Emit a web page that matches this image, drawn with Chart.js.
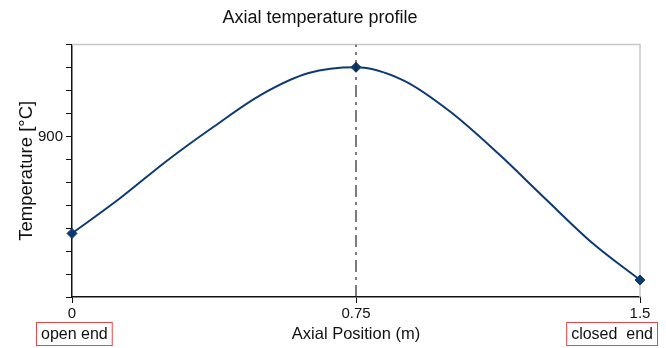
<!DOCTYPE html>
<html>
<head>
<meta charset="utf-8">
<script src="https://cdn.jsdelivr.net/npm/chart.js@4.4.0/dist/chart.umd.min.js"></script>
<style>
  html, body { margin: 0; padding: 0; background: #ffffff; }
  #wrap { width: 666px; height: 348px; }
</style>
</head>
<body>
<div id="wrap"><canvas id="profileChart"></canvas></div>
<script>
// axial position along the tube (m) and temperature
var positions = [0, 0.125, 0.25, 0.375, 0.5, 0.625, 0.75, 0.875, 1.0, 1.125, 1.25, 1.375, 1.5];
var temperatures = [857.7, 872.8, 889.3, 904.3, 918.2, 927.6, 930.1, 924.4, 910.6, 892.6, 872.8, 853.4, 837.4];

// measured points shown with markers
var markerPositions = [0, 0.75, 1.5];
var markerTemps = [857.7, 930.1, 837.4];

var xTicks = [0, 0.75, 1.5];
var yMin = 830, yMax = 940;
var endLabels = ["open end", "closed  end"];

var font = "'Liberation Sans', Arial, sans-serif";

var curve = positions.map(function(p, i) { return { x: p, y: temperatures[i] }; });
var markers = markerPositions.map(function(p, i) { return { x: p, y: markerTemps[i] }; });
var peakLine = [{ x: markerPositions[1], y: yMin }, { x: markerPositions[1], y: yMax }];

// light frame on top/right plus boxed end labels under the x axis
var extras = {
    id: "extras",
    beforeDatasetsDraw: function(chart) {
        var ctx = chart.ctx, a = chart.chartArea;
        ctx.save();
        ctx.strokeStyle = "#c8c8c8";
        ctx.lineWidth = 1.5;
        ctx.beginPath();
        ctx.moveTo(a.left, a.top);
        ctx.lineTo(a.right, a.top);
        ctx.lineTo(a.right, a.bottom);
        ctx.stroke();
        ctx.restore();
    },
    afterDraw: function(chart) {
        var ctx = chart.ctx, xs = chart.scales.x;
        ctx.save();
        ctx.font = "16px " + font;
        ctx.textBaseline = "middle";
        ctx.fillStyle = "#111";
        ctx.strokeStyle = "#e8474a";
        ctx.lineWidth = 1;
        // open end: box starting left of 0
        var x0 = xs.getPixelForValue(xTicks[0]);
        var w0 = ctx.measureText(endLabels[0]).width;
        ctx.textAlign = "left";
        ctx.fillText(endLabels[0], x0 - 31, 334.5);
        ctx.strokeRect(x0 - 35.5, 322.5, w0 + 9, 23);
        // closed end: box ending right of 1.5
        var x1 = xs.getPixelForValue(xTicks[2]);
        var w1 = ctx.measureText(endLabels[1]).width;
        ctx.textAlign = "right";
        ctx.fillText(endLabels[1], x1 + 13, 334.5);
        ctx.strokeRect(x1 + 17.5 - w1 - 9, 322.5, w1 + 9, 23);
        ctx.restore();
    }
};

new Chart(document.getElementById("profileChart").getContext("2d"), {
    type: "scatter",
    data: {
        datasets: [{
            data: peakLine,
            showLine: true,
            borderColor: "#222222",
            borderWidth: 1.2,
            borderDash: [12, 5, 3, 5],
            pointRadius: 0
        }, {
            data: curve,
            showLine: true,
            borderColor: "#0e3a72",
            borderWidth: 2,
            cubicInterpolationMode: "monotone",
            pointRadius: 0
        }, {
            data: markers,
            clip: false,
            pointStyle: "rectRot",
            pointRadius: 5,
            backgroundColor: "#0e3a72",
            borderColor: "#0e3a72"
        }]
    },
    options: {
        responsive: true,
        maintainAspectRatio: false,
        animation: false,
        layout: { padding: { top: 0, right: 26, bottom: 0, left: 0 } },
        plugins: {
            legend: { display: false },
            tooltip: { enabled: false },
            title: {
                display: true,
                text: "Axial temperature profile",
                color: "#111",
                font: { family: font, size: 18, weight: "normal" },
                padding: { top: 7, bottom: 16 }
            }
        },
        scales: {
            x: {
                type: "linear",
                min: 0,
                max: 1.5,
                afterBuildTicks: function(scale) {
                    scale.ticks = xTicks.map(function(v) { return { value: v }; });
                },
                afterFit: function(scale) { scale.height = 51; },
                grid: { drawOnChartArea: false, color: "#111", tickLength: 6 },
                border: { color: "#111", width: 1.5 },
                ticks: {
                    color: "#111",
                    font: { family: font, size: 15 },
                    padding: 2,
                    maxRotation: 0,
                    callback: function(v) { return String(v); }
                },
                title: {
                    display: true,
                    text: "Axial Position (m)",
                    color: "#111",
                    font: { family: font, size: 16.5 },
                    padding: { top: 1 }
                }
            },
            y: {
                min: yMin,
                max: yMax,
                afterFit: function(scale) { scale.width = 72; },
                grid: { drawOnChartArea: false, color: "#111", tickLength: 6 },
                border: { color: "#111", width: 1.5 },
                ticks: {
                    stepSize: 10,
                    color: "#111",
                    font: { family: font, size: 15 },
                    padding: 3,
                    callback: function(v) { return v % 100 === 0 ? v : ""; }
                },
                title: {
                    display: true,
                    text: "Temperature [°C]",
                    color: "#111",
                    font: { family: font, size: 18.5 },
                    padding: { top: 16, bottom: 0 }
                }
            }
        }
    },
    plugins: [extras]
});
</script>
</body>
</html>
